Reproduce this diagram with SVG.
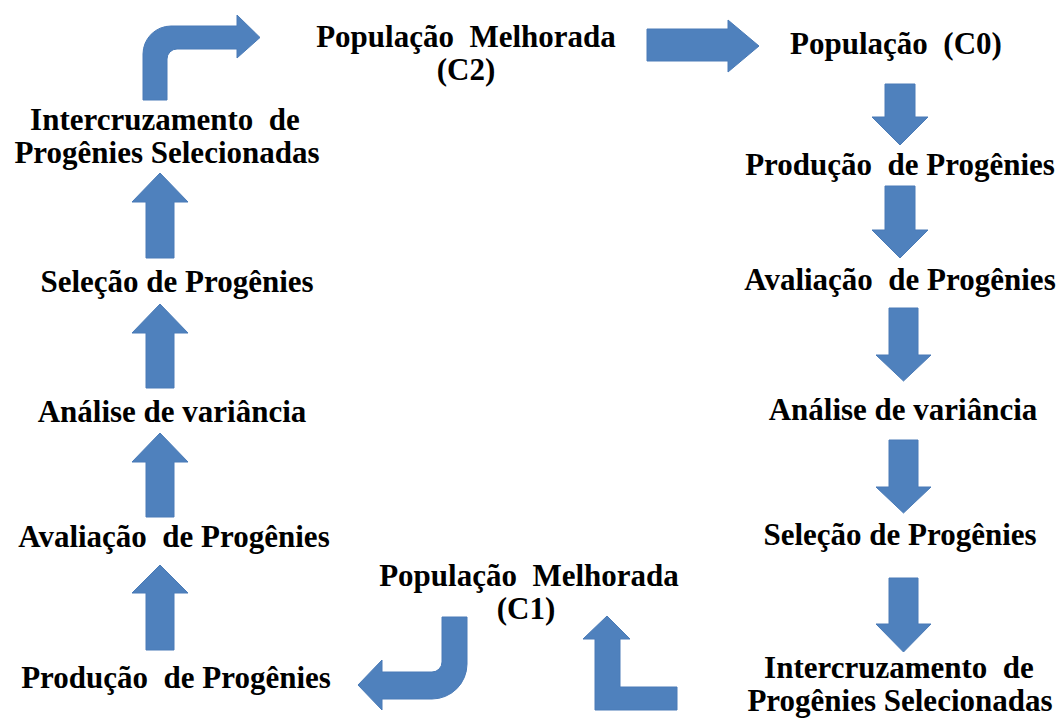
<svg xmlns="http://www.w3.org/2000/svg" width="1061" height="718" viewBox="0 0 1061 718" xml:space="preserve">
<style>
.t{font-family:'Liberation Serif','DejaVu Serif','Times New Roman',serif;font-weight:700;font-size:31px;fill:#000;text-anchor:middle;white-space:pre}
.a{fill:#4f81bd;stroke:#4a7bb7;stroke-width:1}
</style>
<rect width="1061" height="718" fill="#fff"/>
<g id="connectors">
<path class="a" d="M143,100 L143,54 A28,28 0 0 1 171,26 L237,26 L237,15 L260,37.5 L237,58 L237,49 L177,49 A10,10 0 0 0 167,59 L167,100 Z"/>
<path class="a" d="M647,29 L728,29 L728,20 L759,46 L728,72 L728,61 L647,61 Z"/>
<path class="a" d="M885,84 L915,84 L915,117 L928,117 L900,145 L872,117 L885,117 Z"/>
<path class="a" d="M885,186 L915,186 L915,230 L928,230 L900,258 L872,230 L885,230 Z"/>
<path class="a" d="M889,308 L918,308 L918,355 L931,355 L903.5,381 L876,355 L889,355 Z"/>
<path class="a" d="M889,440 L918,440 L918,487 L931,487 L903.5,513 L876,487 L889,487 Z"/>
<path class="a" d="M889,578 L918,578 L918,624 L931,624 L903.5,652 L876,624 L889,624 Z"/>
<path class="a" d="M607,616 L630,639 L620,639 L620,687 L677,687 L677,710 L595,710 L595,639 L583,639 Z"/>
<path class="a" d="M442,617 L467,617 L467,664 A35,35 0 0 1 432,699 L382,699 L382,710 L358,685 L382,660 L382,672 L432,672 A10,10 0 0 0 442,662 Z"/>
<path class="a" d="M160,565 L188,593 L174,593 L174,650 L146,650 L146,593 L132,593 Z"/>
<path class="a" d="M160,433 L188,462 L174,462 L174,517 L146,517 L146,462 L132,462 Z"/>
<path class="a" d="M160,304 L188,333 L174,333 L174,388 L146,388 L146,333 L132,333 Z"/>
<path class="a" d="M160,173 L188,202 L174,202 L174,258 L146,258 L146,202 L132,202 Z"/>
</g>
<g font-family="Liberation Serif, DejaVu Serif, serif" font-weight="bold">
<g id="node-c2"><text class="t" x="466" y="47">População  Melhorada</text><text class="t" x="466" y="80">(C2)</text></g>
<g id="node-c0"><text class="t" x="896" y="54">População  (C0)</text></g>
<g id="node-r-producao"><text class="t" x="900" y="175">Produção  de Progênies</text></g>
<g id="node-r-avaliacao"><text class="t" x="900" y="290">Avaliação  de Progênies</text></g>
<g id="node-r-analise"><text class="t" x="903" y="420">Análise de variância</text></g>
<g id="node-r-selecao"><text class="t" x="900" y="545">Seleção de Progênies</text></g>
<g id="node-r-intercruz"><text class="t" x="899" y="678">Intercruzamento  de</text><text class="t" x="900" y="711">Progênies Selecionadas</text></g>
<g id="node-c1"><text class="t" x="529" y="586">População  Melhorada</text><text class="t" x="526" y="619">(C1)</text></g>
<g id="node-l-producao"><text class="t" x="176" y="688">Produção  de Progênies</text></g>
<g id="node-l-avaliacao"><text class="t" x="174" y="547">Avaliação  de Progênies</text></g>
<g id="node-l-analise"><text class="t" x="172" y="422">Análise de variância</text></g>
<g id="node-l-selecao"><text class="t" x="177" y="292">Seleção de Progênies</text></g>
<g id="node-l-intercruz"><text class="t" x="165" y="130">Intercruzamento  de</text><text class="t" x="167" y="163">Progênies Selecionadas</text></g>
</g>
</svg>
